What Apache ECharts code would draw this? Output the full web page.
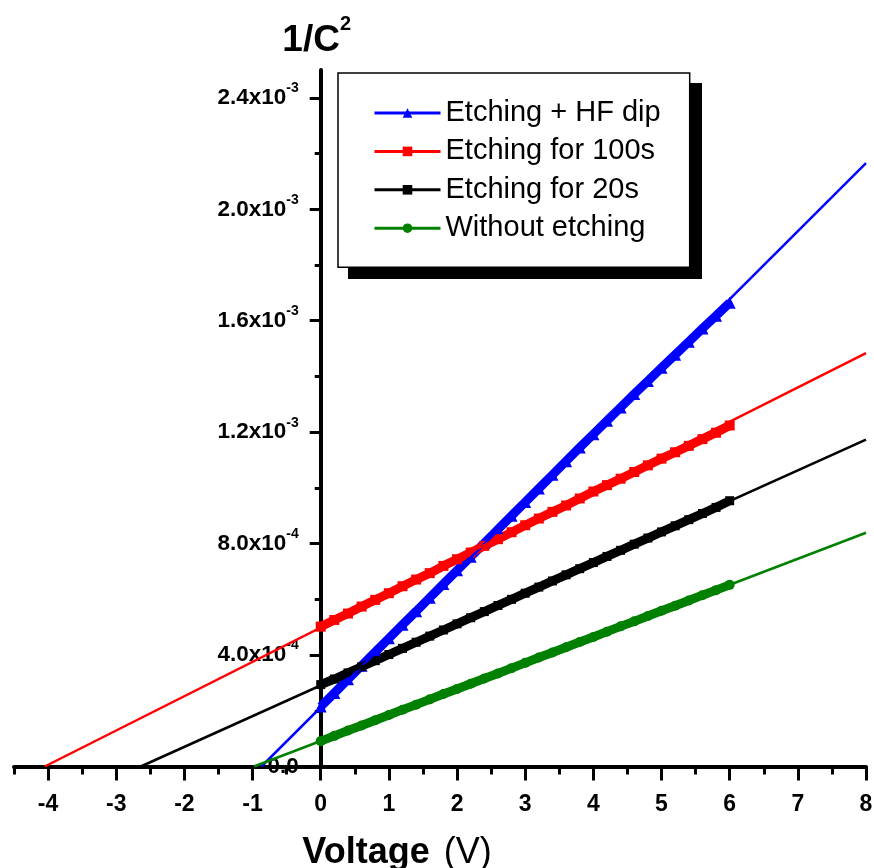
<!DOCTYPE html>
<html>
<head>
<meta charset="utf-8">
<script src="https://cdn.jsdelivr.net/npm/echarts@6/dist/echarts.min.js"></script>
<style>
  html, body { margin: 0; padding: 0; background: #fff; }
  #chart { width: 874px; height: 868px; }
</style>
</head>
<body>
<div id="chart"></div>
<script>
// Mott–Schottky data: 1/C^2 (in units of 10^-3) versus bias voltage (V)
const voltage = [0, 0.2, 0.4, 0.6, 0.8, 1.0, 1.2, 1.4, 1.6, 1.8, 2.0, 2.2, 2.4, 2.6, 2.8, 3.0,
                 3.2, 3.4, 3.6, 3.8, 4.0, 4.2, 4.4, 4.6, 4.8, 5.0, 5.2, 5.4, 5.6, 5.8, 6.0];

const hfDip = [0.215, 0.264, 0.313, 0.362, 0.411, 0.460, 0.509, 0.557, 0.606, 0.655, 0.704,
               0.753, 0.802, 0.851, 0.900, 0.949, 0.998, 1.047, 1.096, 1.145, 1.193, 1.241,
               1.289, 1.337, 1.384, 1.431, 1.478, 1.525, 1.572, 1.618, 1.665];
const etch100 = [0.502, 0.526, 0.549, 0.574, 0.598, 0.622, 0.647, 0.671, 0.694, 0.720, 0.744,
                 0.768, 0.792, 0.816, 0.841, 0.866, 0.890, 0.914, 0.937, 0.962, 0.987, 1.010,
                 1.033, 1.057, 1.081, 1.105, 1.128, 1.151, 1.175, 1.198, 1.224];
const etch20 = [0.294, 0.314, 0.336, 0.358, 0.380, 0.402, 0.424, 0.446, 0.468, 0.490, 0.512,
                0.534, 0.556, 0.578, 0.600, 0.622, 0.644, 0.666, 0.688, 0.710, 0.732, 0.754,
                0.776, 0.798, 0.820, 0.842, 0.864, 0.886, 0.908, 0.930, 0.954];
const noEtch = [0.091, 0.110, 0.129, 0.147, 0.166, 0.185, 0.204, 0.222, 0.241, 0.260, 0.278,
                0.297, 0.316, 0.334, 0.353, 0.372, 0.391, 0.409, 0.428, 0.447, 0.465, 0.484,
                0.503, 0.521, 0.540, 0.559, 0.577, 0.596, 0.615, 0.633, 0.652];

// Linear fits: x-intercept (flat-band voltage) and value at the right edge (8 V)
const fitIntercept = [-0.87, -4.05, -2.64, -0.98];
const fitEndX = 8;
const fitEndValue = [2.166, 1.484, 1.173, 0.839];

const seriesNames = ['Etching + HF dip', 'Etching for 100s', 'Etching for 20s', 'Without etching'];
const seriesColors = ['#0000ff', '#ff0000', '#000000', '#008000'];
const seriesSymbols = ['triangle', 'rect', 'rect', 'circle'];
const seriesSizes = [12, 10, 9, 10];
const seriesValues = [hfDip, etch100, etch20, noEtch];

// Axis ticks
const xMin = -4.5, xMax = 8;
const xMajorTicks = [-4, -3, -2, -1, 0, 1, 2, 3, 4, 5, 6, 7, 8];
const xMinorTicks = [-4.5, -3.5, -2.5, -1.5, -0.5, 0.5, 1.5, 2.5, 3.5, 4.5, 5.5, 6.5, 7.5];
const yMajorTicks = [0, 0.4, 0.8, 1.2, 1.6, 2.0, 2.4];
const yMinorTicks = [0.2, 0.6, 1.0, 1.4, 1.8, 2.2];
const yTickMantissa = ['0.0', '4.0x10', '8.0x10', '1.2x10', '1.6x10', '2.0x10', '2.4x10'];
const yTickExponent = ['', '-4', '-4', '-3', '-3', '-3', '-3'];

const FONT = '"Liberation Sans", Arial, Helvetica, sans-serif';

// Plot area layout; the vertical axis sits at V = 0
const GRID_LEFT = 14, GRID_RIGHT = 8;
const plotWidth = 874 - GRID_LEFT - GRID_RIGHT;
const yAxisOffset = -plotWidth * (0 - xMin) / (xMax - xMin);

const series = [];
seriesValues.forEach((vals, i) => {
  series.push({
    name: seriesNames[i],
    type: 'line',
    data: voltage.map((v, k) => [v, vals[k]]),
    symbol: seriesSymbols[i],
    symbolSize: seriesSizes[i],
    showSymbol: true,
    color: seriesColors[i],
    lineStyle: { width: 9, color: seriesColors[i] },
    itemStyle: { color: seriesColors[i] },
    z: 2
  });
});
seriesValues.forEach((vals, i) => {
  series.push({
    name: seriesNames[i] + ' fit',
    type: 'line',
    data: [[fitIntercept[i], 0], [fitEndX, fitEndValue[i]]],
    showSymbol: false,
    symbol: 'none',
    lineStyle: { width: 2.5, color: seriesColors[i] },
    z: 3
  });
});

const chart = echarts.init(document.getElementById('chart'), null, { renderer: 'canvas' });
chart.setOption({
  animation: false,
  backgroundColor: '#ffffff',
  grid: { left: GRID_LEFT, right: GRID_RIGHT, top: 70, bottom: 101.5, containLabel: false, outerBoundsMode: 'none' },
  // drop shadow behind the legend box
  graphic: [{
    type: 'rect',
    z: 3,
    left: 348,
    top: 83,
    shape: { width: 354, height: 196 },
    style: { fill: '#000' },
    silent: true
  }],
  legend: {
    data: seriesNames,
    orient: 'vertical',
    left: 338,
    top: 73,
    z: 4,
    padding: [25, 29, 24, 35],
    itemGap: 8.4,
    itemWidth: 66,
    itemHeight: 12,
    itemTextGap: 6,
    selectedMode: false,
    backgroundColor: '#ffffff',
    borderColor: '#000000',
    borderWidth: 1.5,
    borderRadius: 0,
    lineStyle: { width: 3 },
    textStyle: { fontFamily: FONT, fontSize: 29, lineHeight: 30, color: '#000' }
  },
  xAxis: [
    {
      type: 'value',
      min: xMin,
      max: xMax,
      interval: 0.5,
      position: 'bottom',
      name: '{b|Voltage}{r| (V)}',
      nameLocation: 'middle',
      nameGap: 69,
      nameTextStyle: {
        padding: [0, 86, 0, 0],
        rich: {
          b: { fontFamily: FONT, fontSize: 36, fontWeight: 'bold', color: '#000' },
          r: { fontFamily: FONT, fontSize: 36, color: '#000', padding: [0, 0, 0, 4] }
        }
      },
      axisLine: { onZero: false, lineStyle: { color: '#000', width: 4 } },
      axisTick: { customValues: xMajorTicks, length: 14, lineStyle: { color: '#000', width: 3 } },
      axisLabel: {
        customValues: xMajorTicks,
        margin: 27,
        fontFamily: FONT, fontSize: 23, fontWeight: 'bold', color: '#000',
        formatter: v => String(v)
      },
      splitLine: { show: false }
    },
    {
      type: 'value',
      min: xMin,
      max: xMax,
      interval: 0.5,
      position: 'bottom',
      axisLine: { show: false, onZero: false },
      axisTick: { customValues: xMinorTicks, length: 8, lineStyle: { color: '#000', width: 3 } },
      axisLabel: { show: false },
      splitLine: { show: false }
    }
  ],
  yAxis: [
    {
      type: 'value',
      min: 0,
      max: 2.5,
      interval: 0.2,
      position: 'left',
      offset: yAxisOffset,
      name: '{a|1/C}{s|2}',
      nameLocation: 'end',
      nameGap: 11,
      nameTextStyle: {
        padding: [0, 8, 0, 0],
        rich: {
          a: { fontFamily: FONT, fontSize: 37, fontWeight: 'bold', color: '#000', padding: [8, 0, 0, 0] },
          s: { fontFamily: FONT, fontSize: 20, fontWeight: 'bold', color: '#000', verticalAlign: 'top' }
        }
      },
      axisLine: { onZero: false, lineStyle: { color: '#000', width: 4 } },
      axisTick: { customValues: yMajorTicks, length: 11, lineStyle: { color: '#000', width: 3 } },
      axisLabel: {
        customValues: yMajorTicks,
        margin: 22,
        formatter: value => {
          const i = yMajorTicks.findIndex(t => Math.abs(t - value) < 1e-9);
          if (i < 0) return '';
          return yTickExponent[i]
            ? '{m|' + yTickMantissa[i] + '}{e|' + yTickExponent[i] + '}'
            : '{m|' + yTickMantissa[i] + '}';
        },
        rich: {
          m: { fontFamily: FONT, fontSize: 22.5, fontWeight: 'bold', color: '#000', padding: [5, 0, 5, 0] },
          e: { fontFamily: FONT, fontSize: 14, fontWeight: 'bold', color: '#000', verticalAlign: 'top' }
        }
      },
      splitLine: { show: false }
    },
    {
      type: 'value',
      min: 0,
      max: 2.5,
      interval: 0.2,
      position: 'left',
      offset: yAxisOffset,
      axisLine: { show: false, onZero: false },
      axisTick: { customValues: yMinorTicks, length: 6, lineStyle: { color: '#000', width: 3 } },
      axisLabel: { show: false },
      splitLine: { show: false }
    }
  ],
  series: series
});
</script>
</body>
</html>
